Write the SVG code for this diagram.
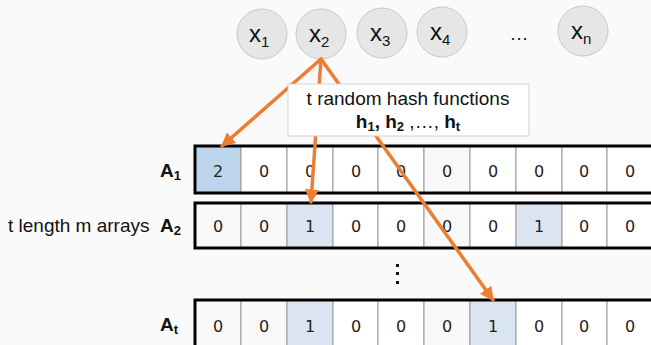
<svg xmlns="http://www.w3.org/2000/svg" width="651" height="345" viewBox="0 0 651 345">
<defs>
<style>
.bg{fill:#fafafa}
.node circle{fill:#e6e6e6;stroke:#c9c9c9;stroke-width:1}
.xt{font-family:"Liberation Sans",Arial,sans-serif;font-size:24px;fill:#111}
.sub{font-size:15px}
.lbl{font-family:"Liberation Sans",Arial,sans-serif;font-size:19px;fill:#111}
.albl{font-family:"Liberation Sans",Arial,sans-serif;font-size:19px;font-weight:bold;fill:#111}
.cell{stroke:#9a9a9a;stroke-width:1}
.w{fill:#ffffff}
.g{fill:#f8f8f8}
.b{fill:#dbe5f1}
.db{fill:#bcd5ec}
.num{font-family:"DejaVu Sans",Verdana,sans-serif;font-size:16px;fill:#222;text-anchor:middle}
.frame{fill:none;stroke:#000;stroke-width:3}
.conn line{stroke:#ED7D31;stroke-width:3.5;stroke-linecap:round}
</style>
<marker id="ah" viewBox="0 0 10 10" refX="9" refY="5" markerWidth="4" markerHeight="4" orient="auto" markerUnits="strokeWidth">
<path d="M0,0 L10,5 L0,10 z" fill="#ED7D31"/>
</marker>
</defs>
<rect class="bg" x="0" y="0" width="651" height="345"/>

<g id="x1" class="node"><circle cx="262" cy="34" r="25"/><text class="xt" x="249" y="42">x<tspan class="sub" dy="5">1</tspan></text></g>
<g id="x2" class="node"><circle cx="321" cy="34" r="25"/><text class="xt" x="309" y="42">x<tspan class="sub" dy="5">2</tspan></text></g>
<g id="x3" class="node"><circle cx="382" cy="33" r="25"/><text class="xt" x="370" y="41">x<tspan class="sub" dy="5">3</tspan></text></g>
<g id="x4" class="node"><circle cx="442" cy="32" r="25"/><text class="xt" x="430" y="40">x<tspan class="sub" dy="5">4</tspan></text></g>
<text id="dots" class="lbl" x="519" y="40" text-anchor="middle">…</text>
<g id="xn" class="node"><circle cx="583" cy="31" r="25"/><text class="xt" x="571" y="39">x<tspan class="sub" dy="5">n</tspan></text></g>

<g id="labels">
<text class="lbl" x="8" y="232">t length m arrays</text>
<text class="albl" x="160" y="177">A<tspan font-size="13" dy="3">1</tspan></text>
<text class="albl" x="160" y="232">A<tspan font-size="13" dy="3">2</tspan></text>
<text class="albl" x="160" y="331">A<tspan font-size="13" dy="3">t</tspan></text>
</g>

<g id="A1">
<rect class="cell db" x="195" y="146" width="46" height="47"/>
<rect class="cell w" x="241" y="146" width="46" height="47"/>
<rect class="cell w" x="287" y="146" width="46" height="47"/>
<rect class="cell w" x="333" y="146" width="45" height="47"/>
<rect class="cell w" x="378" y="146" width="46" height="47"/>
<rect class="cell g" x="424" y="146" width="46" height="47"/>
<rect class="cell w" x="470" y="146" width="46" height="47"/>
<rect class="cell w" x="516" y="146" width="46" height="47"/>
<rect class="cell w" x="562" y="146" width="45" height="47"/>
<rect class="cell w" x="607" y="146" width="50" height="47"/>
<rect class="frame" x="195" y="146" width="470" height="47"/>
<text class="num" x="218" y="177">2</text><text class="num" x="264" y="177">0</text><text class="num" x="310" y="177">0</text><text class="num" x="356" y="177">0</text><text class="num" x="401" y="177">0</text><text class="num" x="447" y="177">0</text><text class="num" x="493" y="177">0</text><text class="num" x="539" y="177">0</text><text class="num" x="584" y="177">0</text><text class="num" x="630" y="177">0</text>
</g>

<g id="A2">
<rect class="cell g" x="195" y="203" width="46" height="45"/>
<rect class="cell g" x="241" y="203" width="46" height="45"/>
<rect class="cell b" x="287" y="203" width="46" height="45"/>
<rect class="cell w" x="333" y="203" width="45" height="45"/>
<rect class="cell w" x="378" y="203" width="46" height="45"/>
<rect class="cell g" x="424" y="203" width="46" height="45"/>
<rect class="cell w" x="470" y="203" width="46" height="45"/>
<rect class="cell b" x="516" y="203" width="46" height="45"/>
<rect class="cell w" x="562" y="203" width="45" height="45"/>
<rect class="cell w" x="607" y="203" width="50" height="45"/>
<rect class="frame" x="195" y="203" width="470" height="45"/>
<text class="num" x="218" y="232">0</text><text class="num" x="264" y="232">0</text><text class="num" x="310" y="232">1</text><text class="num" x="356" y="232">0</text><text class="num" x="401" y="232">0</text><text class="num" x="447" y="232">0</text><text class="num" x="493" y="232">0</text><text class="num" x="539" y="232">1</text><text class="num" x="584" y="232">0</text><text class="num" x="630" y="232">0</text>
</g>

<g id="vdots" fill="#111">
<rect x="396" y="264" width="3" height="3"/>
<rect x="396" y="272" width="3" height="3"/>
<rect x="396" y="281" width="3" height="3"/>
</g>

<g id="At">
<rect class="cell g" x="195" y="300" width="46" height="50"/>
<rect class="cell g" x="241" y="300" width="46" height="50"/>
<rect class="cell b" x="287" y="300" width="46" height="50"/>
<rect class="cell w" x="333" y="300" width="45" height="50"/>
<rect class="cell w" x="378" y="300" width="46" height="50"/>
<rect class="cell g" x="424" y="300" width="46" height="50"/>
<rect class="cell b" x="470" y="300" width="46" height="50"/>
<rect class="cell w" x="516" y="300" width="46" height="50"/>
<rect class="cell w" x="562" y="300" width="45" height="50"/>
<rect class="cell w" x="607" y="300" width="50" height="50"/>
<rect class="frame" x="195" y="300" width="470" height="60"/>
<text class="num" x="218" y="332">0</text><text class="num" x="264" y="332">0</text><text class="num" x="310" y="332">1</text><text class="num" x="356" y="332">0</text><text class="num" x="401" y="332">0</text><text class="num" x="447" y="332">0</text><text class="num" x="493" y="332">1</text><text class="num" x="539" y="332">0</text><text class="num" x="584" y="332">0</text><text class="num" x="630" y="332">0</text>
</g>

<g id="connectors" class="conn">
<line x1="321" y1="59" x2="222" y2="146" marker-end="url(#ah)"/>
<line x1="321" y1="59" x2="311" y2="202" marker-end="url(#ah)"/>
<line x1="321" y1="59" x2="493" y2="300" marker-end="url(#ah)"/>
</g>

<g id="hash">
<rect x="288" y="84" width="241" height="52" fill="#ffffff" stroke="#d2d2d2" stroke-width="1"/>
<text class="lbl" x="408" y="105" text-anchor="middle">t random hash functions</text>
<text class="lbl" x="408" y="128" text-anchor="middle" font-weight="bold">h<tspan font-size="13" dy="3">1</tspan><tspan dy="-3">, h</tspan><tspan font-size="13" dy="3">2</tspan><tspan dy="-3" font-weight="normal"> ,…, </tspan><tspan>h</tspan><tspan font-size="13" dy="3">t</tspan></text>
</g>
</svg>
